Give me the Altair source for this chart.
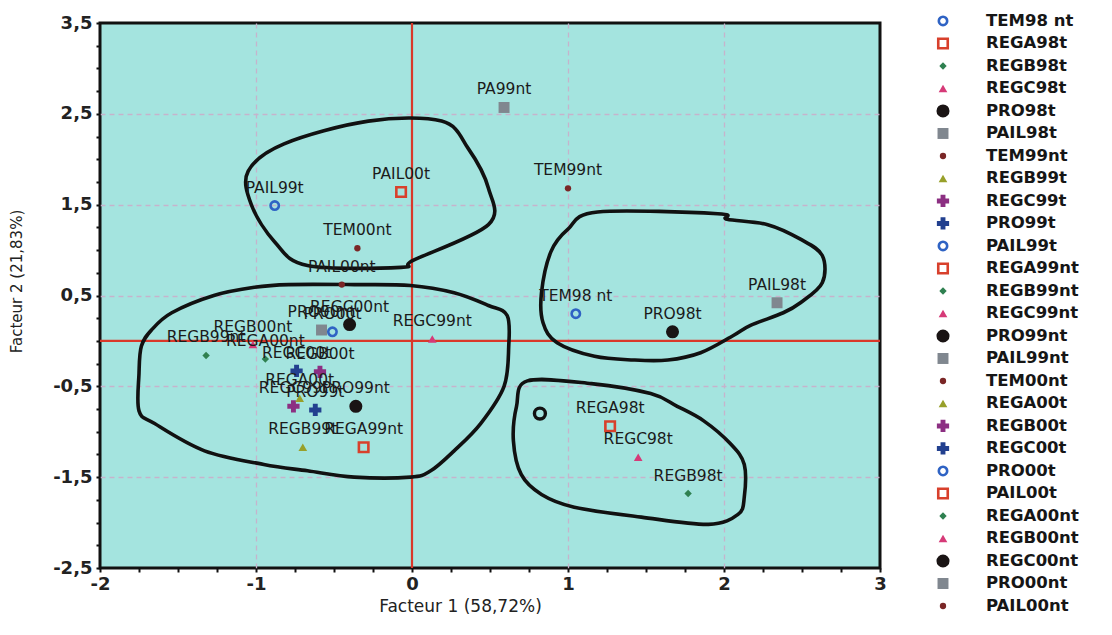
import altair as alt
import pandas as pd

# ---------------- data ----------------
names = ["TEM98 nt", "REGA98t", "REGB98t", "REGC98t", "PRO98t", "PAIL98t", "TEM99nt",
         "REGB99t", "REGC99t", "PRO99t", "PAIL99t", "REGA99nt", "REGB99nt", "REGC99nt",
         "PRO99nt", "PAIL99nt", "TEM00nt", "REGA00t", "REGB00t", "REGC00t", "PRO00t",
         "PAIL00t", "REGA00nt", "REGB00nt", "REGC00nt", "PRO00nt", "PAIL00nt"]
legend_labels = ["TEM98 nt", "REGA98t", "REGB98t", "REGC98t", "PRO98t", "PAIL98t", "TEM99nt",
                 "REGB99t", "REGC99t", "PRO99t", " PAIL99t", "REGA99nt", "REGB99nt", "REGC99nt",
                 "PRO99nt", "PAIL99nt", "TEM00nt", "REGA00t", "REGB00t", "REGC00t", "PRO00t",
                 "PAIL00t", "REGA00nt", "REGB00nt", "REGC00nt", "PRO00nt", "PAIL00nt"]
point_labels = ["TEM98 nt", "REGA98t", "REGB98t", "REGC98t", "PRO98t", "PAIL98t", "TEM99nt",
                "REGB99t", "REGC99t", "PRO99t", "PAIL99t", "REGA99nt", "REGB99nt", "REGC99nt",
                "PRO99nt", "PA99nt", "TEM00nt", "REGA00t", "REGB00t", "REGC00t", "PRO00t",
                "PAIL00t", "REGA00nt", "REGB00nt", "REGC00nt", "PRO00nt", "PAIL00nt"]
factor1 = [1.05, 1.27, 1.77, 1.45, 1.67, 2.34, 1.00,
           -0.70, -0.76, -0.62, -0.88, -0.31, -1.32, 0.13,
           -0.36, 0.59, -0.35, -0.72, -0.59, -0.74, -0.51,
           -0.07, -0.94, -1.02, -0.40, -0.58, -0.45]
factor2 = [0.30, -0.94, -1.68, -1.28, 0.10, 0.42, 1.68,
           -1.17, -0.72, -0.76, 1.49, -1.17, -0.16, 0.02,
           -0.72, 2.57, 1.02, -0.63, -0.34, -0.33, 0.10,
           1.64, -0.20, -0.04, 0.18, 0.12, 0.62]
style_of = [0, 1, 2, 3, 4, 5, 6, 7, 8, 9, 0, 1, 2, 3, 4, 5, 6, 7, 8, 9, 0, 1, 2, 3, 4, 5, 6]

# unlabeled open black circle
extra_x = [0.82]
extra_y = [-0.80]

# hand-drawn contours (closed curves)
contour_a_x = [-1.05, -0.82, -0.28, 0.19, 0.36, 0.49, 0.49, 0.01, -0.07, -0.67, -0.88, -1.03]
contour_a_y = [1.87, 2.17, 2.42, 2.42, 2.12, 1.68, 1.28, 0.89, 0.81, 0.83, 1.09, 1.50]
contour_b_x = [-1.735, -1.75, -1.75, -1.65, -1.33, -0.95, -0.67, -0.37, -0.01, 0.12, 0.27, 0.44,
               0.59, 0.62, 0.61, 0.49, 0.27, -0.01, -0.37, -0.79, -1.01, -1.27, -1.54, -1.67]
contour_b_y = [-0.06, -0.36, -0.77, -0.91, -1.21, -1.36, -1.43, -1.50, -1.50, -1.43, -1.21, -0.91,
               -0.50, -0.06, 0.28, 0.39, 0.53, 0.61, 0.62, 0.62, 0.59, 0.50, 0.31, 0.12]
contour_c_x = [1.19, 1.96, 2.02, 2.28, 2.49, 2.63, 2.63, 2.49, 2.38, 2.17, 2.06, 1.85, 1.64, 1.42,
               1.17, 0.93, 0.84, 0.83, 0.89, 1.00]
contour_c_y = [1.42, 1.40, 1.34, 1.28, 1.12, 0.94, 0.64, 0.42, 0.31, 0.17, 0.06, -0.13, -0.21, -0.21,
               -0.17, -0.02, 0.20, 0.53, 0.98, 1.23]
contour_d_x = [0.74, 1.15, 1.53, 1.70, 1.87, 2.04, 2.13, 2.13, 2.09, 1.90, 1.47, 1.04, 0.83, 0.70,
               0.65, 0.67]
contour_d_y = [-0.44, -0.47, -0.58, -0.72, -0.88, -1.13, -1.36, -1.72, -1.91, -2.02, -1.94, -1.83,
               -1.69, -1.47, -1.10, -0.72]

x_tick_values = [-2, -1, 0, 1, 2, 3]
x_tick_labels = ["-2", "-1", "0", "1", "2", "3"]
y_tick_values = [3.5, 2.5, 1.5, 0.5, -0.5, -1.5, -2.5]
y_tick_labels = ["3,5", "2,5", "1,5", "0,5", "-0,5", "-1,5", "-2,5"]
x_grid_values = [-1, 1, 2]
y_grid_values = [2.5, 1.5, 0.5, -0.5, -1.5]

# ---------------- styles ----------------
style_shapes = ["circle", "square", "diamond", "triangle-up", "circle", "square", "circle",
                "triangle-up", "cross", "cross"]
style_colors = ["#2f63c4", "#d8402c", "#2f8050", "#d63a78", "#1a1414", "#80878f", "#7a2626",
                "#98a02a", "#8c2f82", "#22408f"]
style_filled = [False, False, True, True, True, True, True, True, True, True]
style_sizes = [70, 90, 55, 75, 170, 120, 40, 75, 150, 150]

FONT = "DejaVu Sans"
BG = "#a4e4df"

# ---------------- tables ----------------
pts = pd.DataFrame({
    "name": names, "label": point_labels, "x": factor1, "y": factor2,
    "idx": list(range(len(names))), "legend": legend_labels,
})
pts["shape"] = [style_shapes[s] for s in style_of]
pts["color"] = [style_colors[s] for s in style_of]
pts["filled"] = [style_filled[s] for s in style_of]
pts["size"] = [style_sizes[s] for s in style_of]

extra = pd.DataFrame({"x": extra_x, "y": extra_y})

contour_rows = []
for g, (cx, cy) in enumerate([(contour_a_x, contour_a_y), (contour_b_x, contour_b_y),
                              (contour_c_x, contour_c_y), (contour_d_x, contour_d_y)]):
    for o, (a, b) in enumerate(zip(cx, cy)):
        contour_rows.append({"g": g, "o": o, "x": a, "y": b})
contours = pd.DataFrame(contour_rows)

zero_x = pd.DataFrame({"x": [0]})
zero_y = pd.DataFrame({"y": [0]})


def label_expr(values, labels):
    parts = [f"datum.value == {v} ? '{l}'" for v, l in zip(values, labels)]
    return " : ".join(parts) + " : ''"


def grid_test(values):
    return " || ".join(f"datum.value == {v}" for v in values)


x_minor = [-2 + 0.25 * i for i in range(21)]
y_minor = [-2.5 + 0.25 * i for i in range(25)]

x_axis = alt.Axis(
    values=x_minor, labelExpr=label_expr(x_tick_values, x_tick_labels),
    title="Facteur 1 (58,72%)", grid=True, gridColor="#c6b3cc", gridDash=[5, 4], gridWidth=1.3,
    gridOpacity={"condition": {"test": grid_test(x_grid_values), "value": 1}, "value": 0},
    domain=False, tickColor="#111", tickSize=4, tickWidth=2,
    labelFont=FONT, labelFontSize=18, labelFontWeight="bold", labelColor="#222",
    labelPadding=3, labelOverlap=False, labelFlush=False,
    titleFont=FONT, titleFontSize=17, titleFontWeight="normal", titleColor="#222", titlePadding=5,
    titleX=360,
)
y_axis = alt.Axis(
    values=y_minor, labelExpr=label_expr(y_tick_values, y_tick_labels),
    title="Facteur 2 (21,83%)", grid=True, gridColor="#c6b3cc", gridDash=[5, 4], gridWidth=1.3,
    gridOpacity={"condition": {"test": grid_test(y_grid_values), "value": 1}, "value": 0},
    domain=False, tickColor="#111", tickSize=4, tickWidth=2,
    labelFont=FONT, labelFontSize=18, labelFontWeight="bold", labelColor="#222",
    labelPadding=4, labelOverlap=False, labelFlush=False,
    titleFont=FONT, titleFontSize=15, titleFontWeight="normal", titleColor="#222", titlePadding=28,
    titleY=258,
)

x_scale = alt.Scale(domain=[-2, 3], nice=False, zero=False)
y_scale = alt.Scale(domain=[-2.5, 3.5], nice=False, zero=False)
X = alt.X("x:Q", scale=x_scale, axis=x_axis)
Y = alt.Y("y:Q", scale=y_scale, axis=y_axis)

rule_x = alt.Chart(zero_x).mark_rule(color="#d9382a", strokeWidth=2.2).encode(x=X)
rule_y = alt.Chart(zero_y).mark_rule(color="#d9382a", strokeWidth=2.2).encode(y=Y)

contour_layer = alt.Chart(contours).mark_line(
    interpolate="cardinal-closed", color="#111", strokeWidth=3.6
).encode(x=X, y=Y, detail="g:N", order="o:Q")

filled_pts = alt.Chart(pts).transform_filter("datum.filled").mark_point(
    filled=True, opacity=1
).encode(
    x=X, y=Y,
    shape=alt.Shape("shape:N", scale=None),
    color=alt.Color("color:N", scale=None),
    size=alt.Size("size:Q", scale=None),
)
open_pts = alt.Chart(pts).transform_filter("!datum.filled").mark_point(
    filled=False, opacity=1, strokeWidth=2.6
).encode(
    x=X, y=Y,
    shape=alt.Shape("shape:N", scale=None),
    color=alt.Color("color:N", scale=None),
    size=alt.Size("size:Q", scale=None),
)
extra_pt = alt.Chart(extra).mark_point(
    shape="circle", filled=False, color="#111", size=120, strokeWidth=3.4, opacity=1
).encode(x=X, y=Y)

labels = alt.Chart(pts).mark_text(
    dy=-18, font=FONT, fontSize=15.5, color="#1b1b1b"
).encode(x=X, y=Y, text="label:N")

main = alt.layer(rule_x, rule_y, contour_layer, filled_pts, open_pts, extra_pt, labels).properties(
    width=780, height=545,
    view=alt.ViewBackground(fill=BG, stroke="#111", strokeWidth=3),
)

# ---------------- legend ----------------
LY = alt.Y("idx:Q", scale=alt.Scale(domain=[0.09, 26], reverse=True, nice=False, zero=False), axis=None)
leg_filled = alt.Chart(pts).transform_filter("datum.filled").mark_point(filled=True, opacity=1).encode(
    x=alt.value(12), y=LY,
    shape=alt.Shape("shape:N", scale=None),
    color=alt.Color("color:N", scale=None),
    size=alt.Size("size:Q", scale=None),
)
leg_open = alt.Chart(pts).transform_filter("!datum.filled").mark_point(
    filled=False, opacity=1, strokeWidth=2.6
).encode(
    x=alt.value(12), y=LY,
    shape=alt.Shape("shape:N", scale=None),
    color=alt.Color("color:N", scale=None),
    size=alt.Size("size:Q", scale=None),
)
leg_text = alt.Chart(pts).mark_text(
    align="left", baseline="middle", font=FONT, fontSize=16.5, fontWeight="bold", color="#161616"
).encode(x=alt.value(55), y=LY, text="legend:N")

legend = alt.layer(leg_filled, leg_open, leg_text).properties(
    width=160, height=583,
    view=alt.ViewBackground(stroke="transparent"),
)

chart = alt.hconcat(main, legend, spacing=42).properties(
    padding={"left": 0, "top": 3, "right": 0, "bottom": 5},
    background="white",
).configure_view(stroke="transparent")

chart.save("out.html", embed_options={"renderer": "svg", "actions": False})
